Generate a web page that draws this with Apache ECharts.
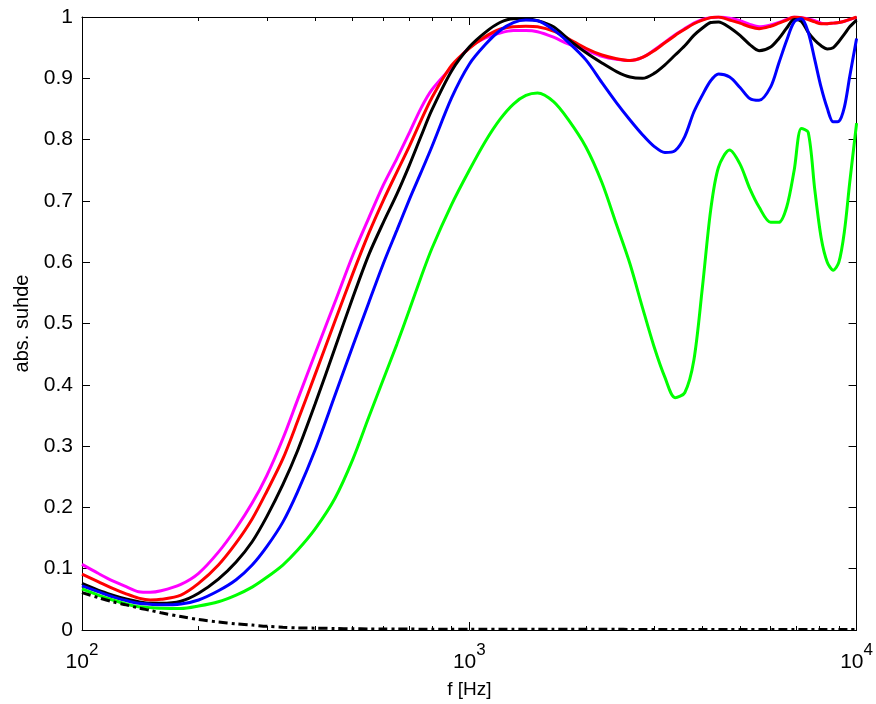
<!DOCTYPE html>
<html>
<head>
<meta charset="utf-8">
<script src="https://cdn.jsdelivr.net/npm/echarts@6/dist/echarts.min.js"></script>
<style>
html,body{margin:0;padding:0;background:#fff;}
#chart{width:876px;height:704px;}
</style>
</head>
<body>
<div id="chart"></div>
<script>
// Frequencies (Hz) shared by all series
const freqHz = [100,110,120,130,140,150,160,180,200,225,250,275,300,330,360,400,450,500,550,600,650,700,750,800,900,1000,1100,1200,1300,1400,1500,1650,1800,2000,2200,2400,2600,2800,3000,3200,3400,3600,3800,4000,4200,4400,4700,5000,5300,5600,6000,6300,6600,6900,7200,7500,7800,8100,8400,8700,9000,9300,9600,10000];

const magentaVals = [0.107,0.0925,0.080,0.0707,0.0625,0.0615,0.064,0.0745,0.0925,0.127,0.166,0.207,0.252,0.312,0.375,0.451,0.535,0.611,0.672,0.726,0.769,0.811,0.851,0.881,0.918,0.95,0.966,0.974,0.978,0.978,0.976,0.967,0.956,0.946,0.936,0.931,0.929,0.934,0.946,0.959,0.971,0.981,0.99,0.996,0.999,1.0,0.998,0.994,0.988,0.984,0.987,0.991,0.996,1.0,0.999,0.997,0.994,0.99,0.989,0.99,0.991,0.993,0.996,0.999];

const redVals = [0.091,0.079,0.068,0.059,0.052,0.049,0.050,0.057,0.076,0.106,0.142,0.181,0.226,0.279,0.340,0.417,0.504,0.581,0.647,0.701,0.747,0.789,0.831,0.868,0.921,0.949,0.968,0.980,0.984,0.985,0.984,0.977,0.965,0.949,0.938,0.932,0.929,0.934,0.945,0.958,0.970,0.980,0.989,0.995,0.999,1.0,0.995,0.99,0.984,0.981,0.985,0.99,0.995,1.0,0.999,0.996,0.992,0.989,0.989,0.99,0.991,0.993,0.996,1.0];

const blackVals = [0.076,0.065,0.057,0.0506,0.046,0.0435,0.0435,0.047,0.06,0.083,0.111,0.144,0.185,0.237,0.292,0.369,0.46,0.542,0.612,0.665,0.711,0.758,0.805,0.848,0.912,0.951,0.975,0.991,0.997,0.997,0.994,0.984,0.964,0.942,0.925,0.911,0.902,0.900,0.908,0.922,0.938,0.953,0.970,0.982,0.991,0.992,0.983,0.970,0.955,0.945,0.951,0.965,0.982,0.996,0.993,0.975,0.962,0.953,0.948,0.950,0.960,0.972,0.984,0.995];

const blueVals = [0.072,0.0625,0.054,0.048,0.0435,0.042,0.041,0.0424,0.049,0.064,0.082,0.106,0.136,0.176,0.225,0.294,0.383,0.463,0.534,0.598,0.652,0.702,0.746,0.788,0.868,0.923,0.955,0.978,0.991,0.995,0.994,0.979,0.959,0.93,0.893,0.86,0.832,0.808,0.789,0.779,0.782,0.805,0.845,0.873,0.896,0.907,0.902,0.885,0.867,0.864,0.886,0.925,0.962,0.992,0.997,0.975,0.93,0.885,0.851,0.829,0.83,0.853,0.903,0.965];

const greenVals = [0.067,0.057,0.049,0.0424,0.038,0.0365,0.0354,0.035,0.039,0.046,0.057,0.07,0.086,0.106,0.13,0.165,0.215,0.278,0.347,0.409,0.466,0.522,0.575,0.622,0.694,0.75,0.797,0.833,0.858,0.872,0.876,0.862,0.833,0.788,0.73,0.661,0.597,0.526,0.462,0.412,0.379,0.387,0.44,0.56,0.685,0.755,0.783,0.76,0.72,0.69,0.665,0.665,0.69,0.75,0.818,0.812,0.718,0.64,0.6,0.587,0.6,0.65,0.73,0.827];

const dashDotVals = [0.061,0.053,0.046,0.041,0.036,0.032,0.028,0.022,0.017,0.013,0.010,0.008,0.006,0.0045,0.0035,0.003,0.0025,0.002,0.0018,0.0016,0.0015,0.0015,0.0014,0.0014,0.0013,0.0013,0.0012,0.0012,0.0012,0.0012,0.0011,0.0011,0.0011,0.0011,0.0011,0.0011,0.001,0.001,0.001,0.001,0.001,0.001,0.001,0.001,0.001,0.001,0.001,0.001,0.001,0.001,0.001,0.001,0.001,0.001,0.001,0.001,0.001,0.001,0.001,0.001,0.001,0.001,0.001,0.001];

const xMajorTicks = [100, 1000, 10000];
const xMinorTicks = [200,300,400,500,600,700,800,900,2000,3000,4000,5000,6000,7000,8000,9000];
const xTickLabels = {100: ['10','2'], 1000: ['10','3'], 10000: ['10','4']};
const yTicks = [0,0.1,0.2,0.3,0.4,0.5,0.6,0.7,0.8,0.9,1];

const FONT = 'Liberation Sans, Arial, sans-serif';
const pair = arr => freqHz.map((f, i) => [f, arr[i]]);

const lineAxis = {show: true, lineStyle: {color: '#000', width: 1}};
function xAx(pos, ticks, len, showLine, showLabel) {
  return {
    type: 'log', logBase: 10, min: 100, max: 10000, position: pos,
    axisLine: showLine ? lineAxis : {show: false},
    axisTick: {show: true, inside: true, length: len, customValues: ticks, lineStyle: {color: '#000', width: 1}},
    axisLabel: showLabel ? {
      show: true, customValues: xMajorTicks, margin: 12, fontFamily: FONT, color: '#000',
      formatter: v => '{b|' + xTickLabels[v][0] + '}{s|' + xTickLabels[v][1] + '}',
      rich: {
        b: {fontSize: 21, lineHeight: 31, verticalAlign: 'bottom', fontFamily: FONT, color: '#000'},
        s: {fontSize: 17, lineHeight: 17, verticalAlign: 'top', fontFamily: FONT, color: '#000'}
      }
    } : {show: false},
    splitLine: {show: false}, minorTick: {show: false}
  };
}

const xAxes = [
  Object.assign(xAx('bottom', xMajorTicks, 8, true, true), {
    name: 'f [Hz]', nameLocation: 'middle', nameGap: 50,
    nameTextStyle: {fontSize: 19, fontFamily: FONT, color: '#000'}
  }),
  xAx('bottom', xMinorTicks, 4, false, false),
  xAx('top', xMajorTicks, 8, true, false),
  xAx('top', xMinorTicks, 4, false, false)
];

const yAxes = [
  {
    type: 'value', min: 0, max: 1, interval: 0.1, position: 'left',
    axisLine: lineAxis,
    axisTick: {show: true, inside: true, length: 8, lineStyle: {color: '#000'}},
    axisLabel: {fontSize: 21, fontFamily: FONT, color: '#000', margin: 9,
      formatter: v => String(Math.round(v * 10) / 10)},
    splitLine: {show: false},
    name: 'abs. suhde', nameLocation: 'middle', nameGap: 50, nameRotate: 90,
    nameTextStyle: {fontSize: 20, fontFamily: FONT, color: '#000'}
  },
  {
    type: 'value', min: 0, max: 1, interval: 0.1, position: 'right',
    axisLine: lineAxis,
    axisTick: {show: true, inside: true, length: 8, lineStyle: {color: '#000'}},
    axisLabel: {show: false}, splitLine: {show: false}
  }
];

function ser(name, vals, color, type) {
  return {
    name: name, type: 'line', data: pair(vals), xAxisIndex: 0, yAxisIndex: 0,
    showSymbol: false, smooth: 0.3, animation: false, clip: true,
    lineStyle: {color: color, width: 3, type: type || 'solid'}
  };
}

const chart = echarts.init(document.getElementById('chart'), null, {renderer: 'canvas'});
chart.setOption({
  animation: false,
  backgroundColor: '#fff',
  grid: {left: 82, right: 14, top: 17, bottom: 74, containLabel: false},
  xAxis: xAxes,
  yAxis: yAxes,
  series: [
    ser('magenta', magentaVals, '#ff00ff'),
    ser('red', redVals, '#ff0000'),
    ser('black', blackVals, '#000000'),
    ser('blue', blueVals, '#0000ff'),
    ser('green', greenVals, '#00ff00'),
    ser('dashdot', dashDotVals, '#000000', [9, 4, 3, 4])
  ]
});
</script>
</body>
</html>
